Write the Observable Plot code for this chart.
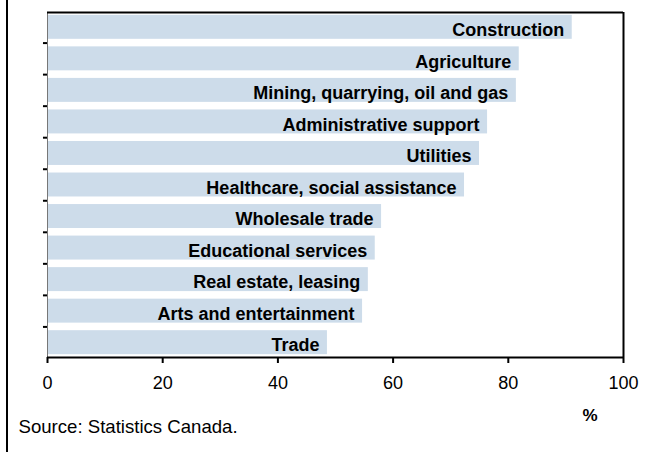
<!DOCTYPE html>
<html>
<head>
<meta charset="utf-8">
<script src="https://cdn.jsdelivr.net/npm/d3@7"></script>
<script src="https://cdn.jsdelivr.net/npm/@observablehq/plot@0.6"></script>
<style>
  html, body { margin: 0; padding: 0; background: #fff; }
  #wrap { position: relative; width: 667px; height: 452px; overflow: hidden; }
  #edge { position: absolute; left: 6px; top: 0; width: 2px; height: 452px; background: #000; z-index: 3; }
  #wrap svg { position: absolute; left: 0; top: 0; }
  #wrap svg.overlay { z-index: 2; pointer-events: none; }
</style>
</head>
<body>
<div id="wrap"><div id="edge"></div></div>
<script>
const categories = [
  "Construction",
  "Agriculture",
  "Mining, quarrying, oil and gas",
  "Administrative support",
  "Utilities",
  "Healthcare, social assistance",
  "Wholesale trade",
  "Educational services",
  "Real estate, leasing",
  "Arts and entertainment",
  "Trade"
];
const values = [91.1, 81.9, 81.4, 76.4, 75.0, 72.4, 58.0, 56.9, 55.7, 54.7, 48.6];
const xTicks = [0, 20, 40, 60, 80, 100];
const unitLabel = "%";
const sourceText = "Source: Statistics Canada.";

const data = categories.map((c, i) => ({category: c, value: values[i]}));

const marginTop = 12, marginBottom = 95, height = 452, width = 667, marginLeft = 47, marginRight = 44;
const padIn = 0.24, padOut = 0.09;
const step = (height - marginTop - marginBottom) / (categories.length - padIn + 2 * padOut);
const bw = step * (1 - padIn);
const tickOffset = -(bw / 2 + padIn * step / 2);

const chart = Plot.plot({
  width, height, marginLeft, marginRight, marginTop, marginBottom,
  style: {fontFamily: "Liberation Sans, Arial, sans-serif", background: "white"},
  x: {domain: [0, 100], ticks: xTicks},
  y: {domain: categories, paddingInner: padIn, paddingOuter: padOut, round: false},
  marks: [
    Plot.barX(data, {x: "value", y: "category", fill: "#cddcea"}),
    Plot.ruleX([0], {stroke: "#777", strokeWidth: 1}),
    Plot.ruleY(categories.slice(1), {y: d => d, x1: -0.7, x2: 0, dy: tickOffset, stroke: "black", strokeWidth: 2}),
    Plot.axisX({ticks: xTicks, tickSize: 6, tickPadding: 13, tickFormat: d => String(d), fontSize: 18, stroke: "black", strokeWidth: 2, label: null, color: "black"}),
    Plot.axisY({ticks: [], label: null}),
    Plot.text(data, {x: "value", y: "category", text: "category", textAnchor: "end", dx: -8, dy: 3, fontSize: 18, fontWeight: "bold", fill: "black"}),
    Plot.text([unitLabel], {frameAnchor: "bottom-right", text: d => d, dx: -26, dy: 63, fontSize: 17, fontWeight: "bold", fill: "black"}),
    Plot.text([sourceText], {frameAnchor: "bottom-left", text: d => d, textAnchor: "start", dx: -29, dy: 75, fontSize: 18.6, fill: "black"})
  ]
});
document.getElementById("wrap").appendChild(chart);

// frame lines (top, right, bottom) in a separate transparent overlay plot
const frameChart = Plot.plot({
  width, height, marginLeft, marginRight, marginTop, marginBottom,
  x: {domain: [0, 100], axis: null},
  y: {domain: [0, 1], axis: null},
  style: {background: "transparent"},
  marks: [
    Plot.ruleY([0, 1], {stroke: "black", strokeWidth: 2}),
    Plot.ruleX([100], {stroke: "black", strokeWidth: 2})
  ]
});
frameChart.classList.add("overlay");
document.getElementById("wrap").appendChild(frameChart);
</script>
</body>
</html>
